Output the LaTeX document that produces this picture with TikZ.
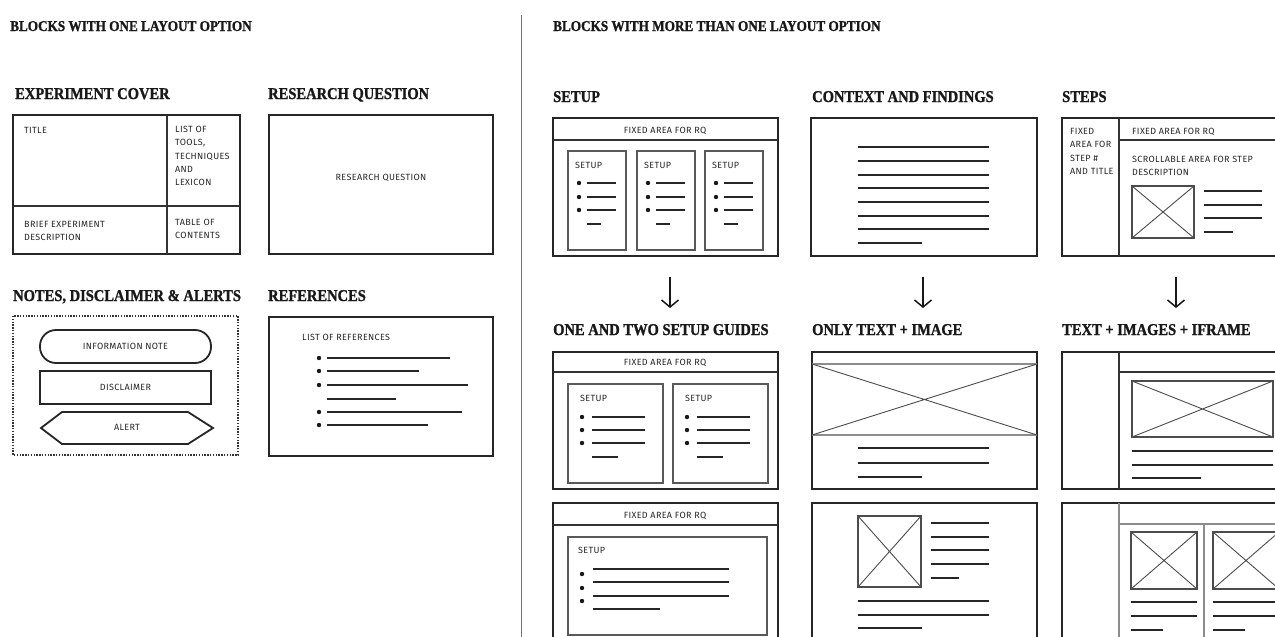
\documentclass[tikz,border=0pt]{standalone}
\usepackage{fontspec}
\setmainfont{Liberation Serif}
\newfontfamily\headfont[FakeStretch=0.88,FakeBold=1.2]{Liberation Serif}
\newfontfamily\smallfont[LetterSpace=4]{Fira Sans}
\usetikzlibrary{arrows.meta}
\newcommand\imgph[4]{%
  \draw[imgbox] (#1,#2) rectangle (#3,#4);
  \draw[xline] (#1,#2) -- (#3,#4) (#1,#4) -- (#3,#2);}
\newcommand\bul[2]{\fill[black!90] (#1,#2) circle (2.2);}
\begin{document}
\begin{tikzpicture}[x=1pt,y=-1pt,
  outer/.style={line width=1.8pt, draw=black!85},
  thinout/.style={line width=1.3pt, draw=black!80},
  inner/.style={line width=1.3pt, draw=black!65},
  grayline/.style={line width=1.2pt, draw=black!45},
  txtline/.style={line width=2pt, draw=black!85},
  imgbox/.style={line width=1.2pt, draw=black!70},
  xline/.style={line width=0.9pt, draw=black!70},
  dotbox/.style={line width=1.2pt, draw=black!80, dash pattern=on 1.4pt off 1.4pt},
  divider/.style={line width=1pt, draw=black!55},
  arr/.style={line width=1.5pt, draw=black!90, -{Straight Barb[length=7pt,width=17pt,line width=1.5pt]}},
  head/.style={font=\headfont\bfseries\fontsize{16.5}{18}\selectfont, anchor=base west, inner sep=0, text=black!90},
  top/.style={font=\headfont\bfseries\fontsize{15}{16}\selectfont, anchor=base west, inner sep=0, text=black!90},
  lbl/.style={font=\smallfont\fontsize{9}{10}\selectfont, anchor=mid west, inner sep=0, text=black!85},
  clbl/.style={lbl, anchor=mid}]
\useasboundingbox (0,0) rectangle (1275,637);
\clip (0,0) rectangle (1275,637);
\fill[white] (0,0) rectangle (1275,637);

% top headers and divider
\node[top] (h1) at (10,31) {BLOCKS WITH ONE LAYOUT OPTION};
\node[top] (h2) at (553,31) {BLOCKS WITH MORE THAN ONE LAYOUT OPTION};
\coordinate (dv1) at (521,15);
\coordinate (dv2) at (521,640);
\draw[divider] (dv1) -- (dv2);

% ===== Experiment cover
\node[head] (t1) at (15,99) {EXPERIMENT COVER};
\draw[outer] (13,115) rectangle (240,254);
\draw[thinout] (167,115) -- (167,254) (13,206) -- (240,206);
\node[lbl] (c1) at (24,131) {TITLE};
\node[lbl] (c2a) at (175,130) {LIST OF};
\node[lbl] (c2b) at (175,143.5) {TOOLS,};
\node[lbl] (c2c) at (175,157) {TECHNIQUES};
\node[lbl] (c2d) at (175,170) {AND};
\node[lbl] (c2e) at (175,183.5) {LEXICON};
\node[lbl] (c3a) at (24,225) {BRIEF EXPERIMENT};
\node[lbl] (c3b) at (24,238) {DESCRIPTION};
\node[lbl] (c4a) at (175,223) {TABLE OF};
\node[lbl] (c4b) at (175,236) {CONTENTS};

% ===== Research question
\node[head] (t2) at (268,99) {RESEARCH QUESTION};
\draw[outer] (269,115) rectangle (493,254);
\node[clbl] (rq) at (381,178) {RESEARCH QUESTION};

% ===== Notes
\node[head] (t3) at (13,301) {NOTES, DISCLAIMER \& ALERTS};
\draw[dotbox] (13,316) rectangle (238,455);
\draw[outer, rounded corners=16] (40,330) rectangle (211,363);
\node[clbl] (n1) at (125.5,347) {INFORMATION NOTE};
\draw[outer] (40,371) rectangle (211,404);
\node[clbl] (n2) at (125.5,388) {DISCLAIMER};
\draw[outer] (41,428) -- (62,412) -- (188,412) -- (213,428) -- (188,444) -- (62,444) -- cycle;
\node[clbl] (n3) at (127,428) {ALERT};

% ===== References
\node[head] (t4) at (268,301) {REFERENCES};
\draw[outer] (269,317) rectangle (493,456);
\node[lbl] (r0) at (302,338) {LIST OF REFERENCES};
\foreach \y/\e in {358/450, 371/419, 385/468, 412/462, 425/428} {
  \bul{319}{\y}
  \draw[txtline] (327,\y) -- (\e,\y);}
\draw[txtline] (327,399) -- (396,399);

% ===== Setup (three columns)
\node[head] (t5) at (553,102) {SETUP};
\draw[outer] (553,118) rectangle (778,256);
\draw[thinout] (553,140) -- (778,140);
\node[clbl] (s0) at (665,131) {FIXED AREA FOR RQ};
\foreach \L [count=\i] in {568,637,705} {
  \draw[inner] (\L,151) rectangle ({\L+58},250);
  \node[lbl] (sc\i) at ({\L+7},166) {SETUP};
  \foreach \y in {183,197,210} {
    \bul{\L+11}{\y}
    \draw[txtline] ({\L+19},\y) -- ({\L+48},\y);}
  \draw[txtline] ({\L+19},224) -- ({\L+33},224);}
\coordinate (a1s) at (670,277);
\coordinate (a1e) at (670,308);
\draw[arr] (a1s) -- (a1e);

% ===== Context and findings
\node[head] (t6) at (812,102) {CONTEXT AND FINDINGS};
\draw[outer] (811,118) rectangle (1037,256);
\foreach \y in {147,161,175,188,202,216,229}
  \draw[txtline] (858,\y) -- (989,\y);
\draw[txtline] (858,243) -- (922,243);
\coordinate (a2s) at (923,277);
\coordinate (a2e) at (923,308);
\draw[arr] (a2s) -- (a2e);

% ===== Steps
\node[head] (t7) at (1062,102) {STEPS};
\draw[outer] (1062,118) rectangle (1300,256);
\draw[thinout] (1119,118) -- (1119,256) (1119,140) -- (1300,140);
\node[lbl] (st1) at (1070,132) {FIXED};
\node[lbl] (st2) at (1070,145.5) {AREA FOR};
\node[lbl] (st3) at (1070,159) {STEP \#};
\node[lbl] (st4) at (1070,172) {AND TITLE};
\node[lbl] (st5) at (1132,132) {FIXED AREA FOR RQ};
\node[lbl] (st6) at (1132,160) {SCROLLABLE AREA FOR STEP};
\node[lbl] (st7) at (1132,173) {DESCRIPTION};
\imgph{1132}{186}{1194}{238}
\foreach \y in {191,205,218}
  \draw[txtline] (1204,\y) -- (1262,\y);
\draw[txtline] (1204,232) -- (1233,232);
\coordinate (a3s) at (1176,277);
\coordinate (a3e) at (1176,308);
\draw[arr] (a3s) -- (a3e);

% ===== One and two setup guides
\node[head] (t8) at (553,335) {ONE AND TWO SETUP GUIDES};
\draw[outer] (553,352) rectangle (778,489);
\draw[thinout] (553,372) -- (778,372);
\node[clbl] (g0) at (665,363) {FIXED AREA FOR RQ};
\foreach \L [count=\i] in {568,673} {
  \draw[inner] (\L,384) rectangle ({\L+95},483);
  \node[lbl] (gs\i) at ({\L+12},399) {SETUP};
  \foreach \y in {417,430,443} {
    \bul{\L+14}{\y}
    \draw[txtline] ({\L+24},\y) -- ({\L+77},\y);}
  \draw[txtline] ({\L+24},457) -- ({\L+50},457);}

\draw[outer] (553,503) rectangle (778,660);
\draw[thinout] (553,525) -- (778,525);
\node[clbl] (g3) at (665,516) {FIXED AREA FOR RQ};
\draw[inner] (568,537) rectangle (767,635);
\node[lbl] (gs3) at (578,551) {SETUP};
\foreach \y in {569,582,596}
  \draw[txtline] (593,\y) -- (729,\y);
\draw[txtline] (593,609) -- (660,609);
\foreach \y in {574,588,601} {\bul{582}{\y}}

% ===== Only text + image
\node[head] (t9) at (812,335) {ONLY TEXT + IMAGE};
\draw[outer] (812,352) rectangle (1037,489);
\draw[grayline] (812,364) -- (1037,364) (812,435) -- (1037,435);
\draw[xline] (812,364) -- (1037,435) (812,435) -- (1037,364);
\foreach \y in {448,463}
  \draw[txtline] (858,\y) -- (989,\y);
\draw[txtline] (858,477) -- (922,477);

\draw[outer] (812,503) rectangle (1037,660);
\imgph{858}{516}{921}{587}
\foreach \y in {523,537,550,564}
  \draw[txtline] (931,\y) -- (989,\y);
\draw[txtline] (931,578) -- (959,578);
\foreach \y in {601,615}
  \draw[txtline] (858,\y) -- (989,\y);
\draw[txtline] (858,628) -- (922,628);

% ===== Text + images + iframe
\node[head] (t10) at (1062,335) {TEXT + IMAGES + IFRAME};
\draw[outer] (1062,352) rectangle (1300,489);
\draw[thinout] (1119,352) -- (1119,489) (1119,372) -- (1300,372);
\imgph{1132}{381}{1273}{437}
\foreach \y in {451,465}
  \draw[txtline] (1132,\y) -- (1273,\y);
\draw[txtline] (1132,478) -- (1201,478);

\draw[outer] (1062,503) rectangle (1300,660);
\draw[grayline] (1119,503) -- (1119,660) (1119,524) -- (1300,524) (1204,524) -- (1204,660);
\imgph{1131}{532}{1197}{589}
\imgph{1213}{532}{1279}{589}
\foreach \x in {1131,1213} {
  \draw[txtline] (\x,602) -- ({\x+66},602);
  \draw[txtline] (\x,616) -- ({\x+66},616);
  \draw[txtline] (\x,630) -- ({\x+32},630);}
\end{tikzpicture}
\end{document}
